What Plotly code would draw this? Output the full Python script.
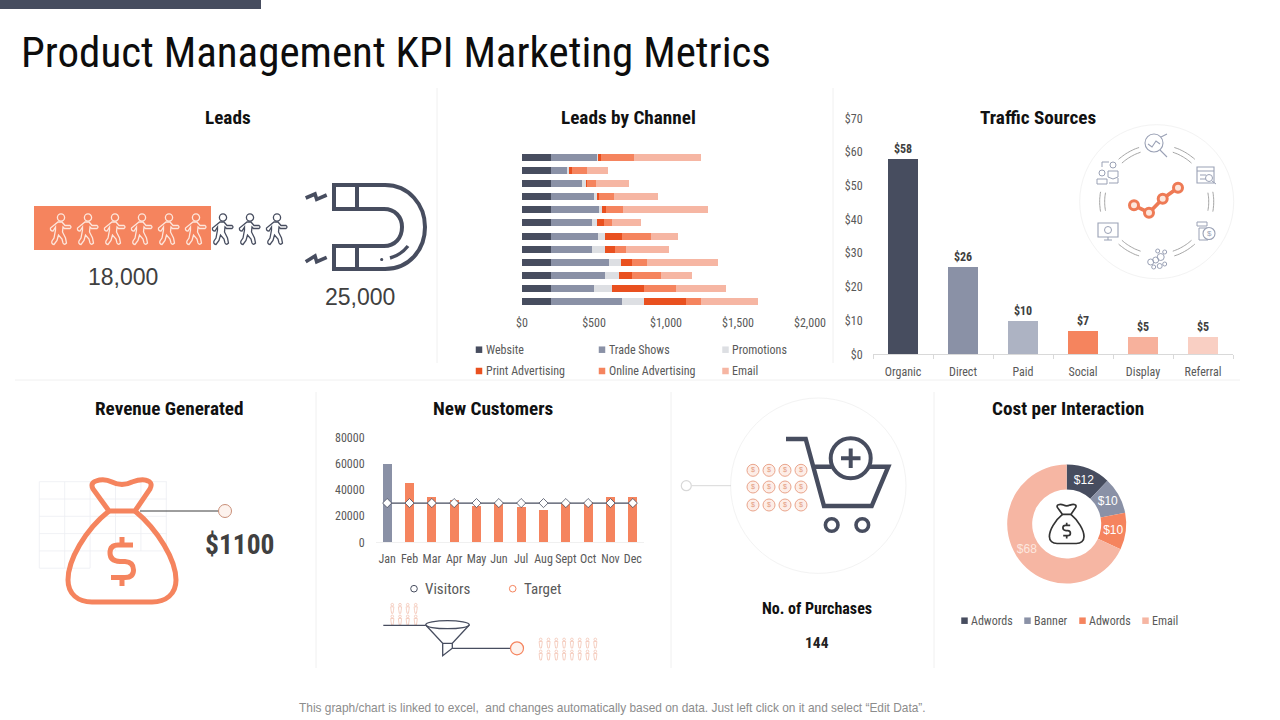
import numpy as np
import plotly.graph_objects as go

W, H = 1280, 720
NARROW = "Roboto Condensed, Roboto"
SANS = "Liberation Sans"

DARK = "#474d5f"
SLATE = "#8a91a6"
PALE = "#adb3c3"
ORANGE = "#f5845e"
SALMON = "#f7b19c"
BLUSH = "#f9cfc3"
RED = "#e9501f"
MIST = "#dddfe3"
EMAIL = "#f6b6a3"
GREY_TEXT = "#595959"
RULE = "#f0f0f0"

# Leads by Channel, one value per row, top row first
row_ids = list(range(1, 13))
website = [200, 200, 200, 200, 200, 200, 200, 200, 200, 200, 200, 200]
trade_shows = [322, 111, 218, 298, 333, 285, 326, 285, 403, 375, 298, 493]
promotions = [5, 14, 30, 28, 21, 35, 49, 90, 83, 97, 125, 153]
print_adv = [21, 21, 5, 12, 28, 49, 118, 69, 76, 90, 222, 292]
online_adv = [229, 104, 60, 100, 118, 56, 201, 81, 104, 201, 227, 104]
email = [465, 150, 229, 305, 590, 201, 188, 294, 493, 215, 343, 396]
channel_ticks = [0, 500, 1000, 1500, 2000]
channel_tick_text = ["$0", "$500", "$1,000", "$1,500", "$2,000"]

# Traffic Sources
traffic_labels = ["Organic", "Direct", "Paid", "Social", "Display", "Referral"]
traffic_values = [58, 26, 10, 7, 5, 5]
traffic_ticks = [0, 10, 20, 30, 40, 50, 60, 70]
traffic_tick_text = ["$0", "$10", "$20", "$30", "$40", "$50", "$60", "$70"]

# New Customers
months = ["Jan", "Feb", "Mar", "Apr", "May", "Jun", "Jul", "Aug", "Sept", "Oct", "Nov", "Dec"]
visitors = [60000, 45000, 35000, 32000, 28000, 30000, 27000, 25000, 30000, 31000, 35000, 35000]
target = [30000, 30000, 30000, 30000, 30000, 30000, 30000, 30000, 30000, 30000, 30000, 30000]
customer_ticks = [0, 20000, 40000, 60000, 80000]

# Cost per Interaction
cost_labels = ["Adwords", "Banner", "Adwords ", "Email"]
cost_values = [12, 10, 10, 68]

shapes = []
notes = []


def dom_x(a, b):
    return [a / W, b / W]


def dom_y(top, bottom):
    return [1 - bottom / H, 1 - top / H]


def path(d, color=DARK, width=1.5, fill=None):
    shapes.append(dict(type="path", path=d, xref="x4", yref="y4",
                       line=dict(color=color, width=width),
                       fillcolor=fill if fill else "rgba(0,0,0,0)"))


def line(x0, y0, x1, y1, color=RULE, width=1):
    shapes.append(dict(type="line", x0=x0, y0=y0, x1=x1, y1=y1, xref="x4", yref="y4",
                       line=dict(color=color, width=width)))


def rect(x0, y0, x1, y1, fill=None, color=None, width=1):
    shapes.append(dict(type="rect", x0=x0, y0=y0, x1=x1, y1=y1, xref="x4", yref="y4",
                       line=dict(color=color or "rgba(0,0,0,0)", width=width),
                       fillcolor=fill or "rgba(0,0,0,0)"))


def circle(cx, cy, r, color=DARK, width=1.5, fill=None):
    shapes.append(dict(type="circle", x0=cx - r, y0=cy - r, x1=cx + r, y1=cy + r,
                       xref="x4", yref="y4", line=dict(color=color, width=width),
                       fillcolor=fill or "rgba(0,0,0,0)"))


def text(x, y, s, size=12, color=GREY_TEXT, family=NARROW, anchor="center"):
    notes.append(dict(x=x, y=y, xref="x4", yref="y4", text=s, showarrow=False,
                      xanchor=anchor, yanchor="middle", borderpad=0,
                      font=dict(size=size, color=color, family=family)))


def walker(cx, cy, color):
    def p(x, y):
        return f"{cx + x:.1f},{cy + y:.1f}"
    d = ("M" + p(-2, -7) + " L" + p(2, -7) + " L" + p(5, -3.5) + " L" + p(10, -3.5)
         + " Q" + p(12, -2) + " " + p(10, -0.5) + " L" + p(4.5, -0.5) + " L" + p(3, -2)
         + " L" + p(2.5, 3) + " L" + p(5.5, 9) + " L" + p(6.5, 14) + " Q" + p(4.5, 16.5) + " " + p(3, 14)
         + " L" + p(2, 10) + " L" + p(-1.5, 6) + " L" + p(-3, 11.5) + " L" + p(-6, 15.5)
         + " Q" + p(-9, 15) + " " + p(-8, 12) + " L" + p(-6, 9) + " L" + p(-4.5, 1)
         + " L" + p(-4.5, -2) + " L" + p(-7, 2) + " Q" + p(-10, 2) + " " + p(-9.5, -1) + " Z")
    path(d, color, 1.3)
    circle(cx + 1, cy - 11.5, 3.6, color, 1.3)


def bag(cx, cy, s, color, width):
    # drawn around the orange bag on the revenue panel, then scaled
    def p(x, y):
        return f"{cx + (x - 122) * s:.1f},{cy + (y - 541) * s:.1f}"
    path("M" + p(109, 511) + " L" + p(93, 489) + " Q" + p(90, 483) + " " + p(96, 481)
         + " Q" + p(104, 478) + " " + p(112, 482) + " Q" + p(122, 487) + " " + p(132, 482)
         + " Q" + p(143, 478) + " " + p(148, 481) + " Q" + p(153, 483) + " " + p(150, 489)
         + " L" + p(135, 511) + " Z", color, width)
    path("M" + p(109, 511) + " C" + p(85, 530) + " " + p(68, 560) + " " + p(68, 580)
         + " C" + p(68, 594) + " " + p(78, 602) + " " + p(92, 602) + " L" + p(152, 602)
         + " C" + p(166, 602) + " " + p(176, 594) + " " + p(176, 580)
         + " C" + p(176, 560) + " " + p(158, 530) + " " + p(135, 511), color, width)
    path("M" + p(133, 545) + " L" + p(118, 545) + " Q" + p(110, 545) + " " + p(110, 553)
         + " Q" + p(110, 561) + " " + p(120, 561.5) + " L" + p(125, 561.5)
         + " Q" + p(133.5, 562) + " " + p(133.5, 570) + " Q" + p(133.5, 577.5) + " " + p(125, 577.5)
         + " L" + p(111, 577.5), color, width)
    path("M" + p(122, 537) + " L" + p(122, 545) + " M" + p(122, 577.5) + " L" + p(122, 586), color, width)


def person(cx, cy, color):
    circle(cx, cy - 3.6, 1.3, color, 0.8)
    path(f"M{cx - 1.6},{cy - 1.5} L{cx + 1.6},{cy - 1.5} L{cx + 1.2},{cy + 2} L{cx + 0.7},{cy + 5}"
         f" L{cx - 0.7},{cy + 5} L{cx - 1.2},{cy + 2} Z", color, 0.8)


def arc(cx, cy, r, a0, a1, color="#9b9b9b", width=0.9):
    ang = np.radians(np.linspace(a0, a1, 14))
    pts = [f"{cx + r * np.cos(a):.1f},{cy - r * np.sin(a):.1f}" for a in ang]
    path("M" + " L".join(pts), color, width)


fig = go.Figure()

# Leads by Channel
stack = [("Website", website, DARK), ("Trade Shows", trade_shows, SLATE),
         ("Promotions", promotions, MIST), ("Print Advertising", print_adv, RED),
         ("Online Advertising", online_adv, ORANGE), ("Email", email, EMAIL)]
for name, vals, col in stack:
    fig.add_trace(go.Bar(y=row_ids, x=vals, name=name, orientation="h", marker=dict(color=col, line_width=0),
                         xaxis="x", yaxis="y", showlegend=False))

# Traffic Sources
fig.add_trace(go.Bar(x=traffic_labels, y=traffic_values, xaxis="x2", yaxis="y2", showlegend=False, width=0.5,
                     marker=dict(color=[DARK, SLATE, PALE, ORANGE, SALMON, BLUSH], line_width=0),
                     text=[f"<b>${v}</b>" for v in traffic_values], textposition="outside", cliponaxis=False,
                     textfont=dict(size=12, color="#404040", family=NARROW)))

# New Customers
fig.add_trace(go.Bar(x=months, y=visitors, name="Visitors", xaxis="x3", yaxis="y3", showlegend=False, width=0.4,
                     marker=dict(color=[SLATE] + [ORANGE] * 11, line_width=0)))
fig.add_trace(go.Scatter(x=months, y=target, name="Target", xaxis="x3", yaxis="y3", showlegend=False,
                         mode="lines+markers", line=dict(color=DARK, width=1.2),
                         marker=dict(symbol="diamond", size=7, color="white", line=dict(color=DARK, width=0.8))))

# Cost per Interaction
fig.add_trace(go.Pie(labels=cost_labels, values=cost_values, hole=0.58, sort=False, direction="clockwise",
                     rotation=0, showlegend=False,
                     domain=dict(x=dom_x(1007, 1126.4), y=dom_y(464.5, 583.5)),
                     marker=dict(colors=[DARK, SLATE, ORANGE, EMAIL], line=dict(color="white", width=0)),
                     texttemplate="$%{value}", textposition="inside", insidetextorientation="horizontal",
                     textfont=dict(size=12, color=["white", "white", "white", "#fde7df"], family=SANS)))

# flat legends and the little dollar coins share the full page axes
legend_groups = [
    ([479, 602, 725.5], [349.7], ["Website", "Trade Shows", "Promotions"], [DARK, SLATE, MIST], 12),
    ([479, 602, 725.5], [371], ["Print Advertising", "Online Advertising", "Email"], [RED, ORANGE, EMAIL], 12),
    ([964.5, 1027.5, 1082.5, 1145.5], [620.7], ["Adwords", "Banner", "Adwords", "Email"],
     [DARK, SLATE, ORANGE, EMAIL], 12),
]
for xs, ys, labels, cols, size in legend_groups:
    fig.add_trace(go.Scatter(x=xs, y=ys * len(xs), mode="markers", xaxis="x4", yaxis="y4", showlegend=False,
                             marker=dict(symbol="square", size=6.5, color=cols, line_width=0)))
    for x, label in zip(xs, labels):
        text(x + 5.5, ys[0], label, size, anchor="left")

for x in [753, 769, 785, 801]:
    for y in [470.3, 487, 505]:
        fig.add_trace(go.Scatter(x=[x], y=[y], mode="markers+text", text=["$"], textposition="middle center",
                                 textfont=dict(size=7, color="#e39a80", family=SANS), xaxis="x4", yaxis="y4",
                                 showlegend=False,
                                 marker=dict(size=12, color="#fdeee8", line=dict(color="#eaa58c", width=1))))

# the orange trend inside the traffic ring
fig.add_trace(go.Scatter(x=[1134, 1149, 1162.7, 1178], y=[205.3, 212.7, 198.7, 187.7], mode="lines+markers",
                         xaxis="x4", yaxis="y4", showlegend=False, line=dict(color="#ee7a55", width=3.6),
                         marker=dict(size=9, color="#fde6dc", line=dict(color="#ee7a55", width=3))))

# chrome
rect(0, 0, 261, 9, fill=DARK)
text(20, 52, "Product Management KPI Marketing Metrics", 43, "#0d0d0d", anchor="left")
for x, y0, y1 in [(437, 88, 363), (833, 88, 363), (316, 392, 668), (671, 392, 668), (934, 392, 668)]:
    line(x, y0, x, y1)
line(15, 380, 1240, 380)
for x, y, s in [(228, 117, "Leads"), (628, 117, "Leads by Channel"), (1038, 117, "Traffic Sources"),
                (169, 408, "Revenue Generated"), (493, 408, "New Customers"), (1068, 408, "Cost per Interaction")]:
    text(x, y, f"<b>{s}</b>", 19.2, "#111111")
text(612, 708, "This graph/chart is linked to excel,  and changes automatically based on data. Just left click on it and select “Edit Data”.",
     11.9, "#8c8c8c", SANS)

# Leads panel
rect(34, 206, 211, 250, fill=ORANGE)
for x in [60, 87, 114, 141, 168, 195]:
    walker(x, 229, "#fde6dc")
for x in [222, 249, 276]:
    walker(x, 229, DARK)
text(123, 277, "18,000", 23, "#404040", SANS)
text(360, 297, "25,000", 23, "#404040", SANS)
path("M334,185 L385,185 C409,185 425,205 425,227 C425,250 409,269 385,269 L334,269 L334,246 L384,246"
     " C395,246 402,238 402,227 C402,217 395,209 384,209 L334,209 Z", DARK, 4)
path("M357,185 L357,209 M357,246 L357,269", DARK, 4)
path("M390,258 Q401,255 408,246", DARK, 3.4)
circle(381.7, 259.5, 1, DARK, 1.2, DARK)
path("M305.7,198 L315,194 L316.7,199.3 L326.7,195", DARK, 3.6)
path("M305.7,261.7 L315,256 L316.7,261.7 L326.7,257.3", DARK, 3.6)

# Traffic ring and its small icons
ICON = "#9aa1b5"
circle(1156.7, 201.7, 77, "#f3f3f3", 1)
for a0, a1 in [(48, 72), (108, 132), (-10, 10), (170, 190), (-72, -48), (-132, -108)]:
    arc(1156.7, 201.7, 52, a0, a1)
    arc(1156.7, 201.7, 57, a0, a1)
circle(1154, 143, 9, ICON, 1.1)
path("M1160,150 L1167,157 M1148,144 L1152,147 L1156,141 L1160,144 M1161,137 L1167,134", ICON, 1.1)
rect(1197, 167, 1214, 183, color=ICON, width=1.1)
path("M1197,171 L1214,171 M1200,175 L1206,175 M1200,179 L1206,179", ICON, 1)
circle(1209, 178, 3.5, ICON, 1)
path("M1212,181 L1216,184", ICON, 1)
rect(1197, 222, 1207, 226, color=ICON, width=1)
rect(1199, 228, 1208, 240, color=ICON, width=1)
circle(1209, 233.5, 6, ICON, 1.1, "white")
text(1209, 233.5, "$", 8, ICON, SANS)
for dx, dy, r in [(-6, 2, 3), (-1, 0, 3), (4, -3, 3.5), (8, -8, 2), (1, -9, 2), (-3, 7, 2), (3, 6, 2.5), (8, 4, 2)]:
    circle(1156.7 + dx, 260 + dy, r, ICON, 1)
rect(1098, 223, 1118, 237, color=ICON, width=1.1)
path("M1104,240 L1112,240 M1108,237 L1108,240", ICON, 1.1)
circle(1108, 230, 3.5, ICON, 1)
circle(1113, 165, 3, ICON, 1)
path("M1108,177 L1108,171 L1118,171 L1118,177 L1113,179 Z", ICON, 1)
circle(1102, 173, 3, ICON, 1)
path("M1097,184 L1097,179 L1107,179 L1107,184 Z M1102,167 L1102,162 L1109,162 M1118,178 L1118,183 L1109,183", ICON, 1)

# Revenue panel
GRID = "#eceef3"
for x in np.arange(39.3, 170, 25.4):
    line(x, 481.7, x, 568 if x < 95 else 551, GRID, 0.8)
for y in np.arange(481.7, 570, 17.3):
    line(39.3, y, 90.2 if y > 560 else 166.7, y, GRID, 0.8)
bag(122, 541, 1.0, ORANGE, 5)
line(140, 511, 219, 511, "#3d3d3d", 1)
circle(225, 511, 6.5, "#c98f78", 1, "#fdf3ee")
text(239.5, 544, "<b>$1100</b>", 27.5, "#404040", NARROW)

# Funnel under New Customers
text(448, 588.7, "Visitors", 15, GREY_TEXT)
text(542, 588.7, "Target", 15, GREY_TEXT)
circle(414, 588.7, 3.3, DARK, 1)
circle(512.7, 588.7, 3.3, ORANGE, 1)
for x in [392.3, 400, 407.7, 415.7]:
    for y in [608.3, 620]:
        person(x, y, "#f3c4b4")
for i in range(8):
    for y in [643, 655]:
        person(540.7 + i * 7.8, y, "#f3c4b4")
line(383.3, 625.3, 425.7, 625.3, DARK, 1.3)
shapes.append(dict(type="circle", x0=425.7, y0=620.7, x1=469.3, y1=628.7, xref="x4", yref="y4",
                   line=dict(color=DARK, width=1.3), fillcolor="rgba(0,0,0,0)"))
path("M425.7,625 L442.7,643.3 L442.7,655.7 L452.3,648.3 L452.3,643.3 L469.3,625 M442.7,643.3 L452.3,643.3", DARK, 1.3)
line(452.3, 648.3, 510.7, 648.3, DARK, 1.3)
circle(517, 648.3, 6.5, ORANGE, 1.2, "#fdf3ee")

# Purchases panel
circle(818.3, 485.7, 87.7, "#f3f3f3", 1)
circle(686.3, 485.7, 5, "#d8d8d8", 1.2)
line(692, 485.7, 731, 485.7, "#d8d8d8", 1)
path("M786,439 L805.7,439 L824,506 L871.7,506 L888.3,466.7 L870,466.7 M815,466.7 L831.7,466.7", DARK, 4.4)
circle(850.7, 458.3, 20, DARK, 4)
path("M850.7,448.5 L850.7,468 M841,458.3 L860.5,458.3", DARK, 4)
circle(831.7, 525, 6.3, DARK, 3.6)
circle(862.3, 525, 6.3, DARK, 3.6)
text(817, 608, "<b>No. of Purchases</b>", 16, "#111111")
text(817, 643, "<b>144</b>", 15.5, "#222222")

# money bag in the donut hole
bag(1066.7, 524, 0.32, "#333333", 1.7)

fig.update_layout(
    width=W, height=H, margin=dict(l=0, r=0, t=0, b=0, autoexpand=False), autosize=False,
    paper_bgcolor="white", plot_bgcolor="rgba(0,0,0,0)", showlegend=False,
    barmode="stack", bargap=0.47,
    shapes=shapes, annotations=notes,
    font=dict(family=NARROW, color=GREY_TEXT, size=12),
    xaxis=dict(domain=dom_x(522, 810), range=[0, 2000], anchor="y", tickvals=channel_ticks, ticktext=channel_tick_text,
               showgrid=False, zeroline=False, showline=False, ticks="outside", ticklen=4,
               tickcolor="rgba(0,0,0,0)", tickfont=dict(size=12, color=GREY_TEXT)),
    yaxis=dict(domain=dom_y(151, 308), range=[12.5, 0.5], anchor="x", visible=False),
    xaxis2=dict(domain=dom_x(873, 1233), anchor="y2", showgrid=False, zeroline=False, showline=True,
                linecolor="#d9d9d9", ticks="outside", tickson="boundaries", ticklen=4, tickcolor="#d9d9d9",
                ticklabelstandoff=6, tickangle=0, tickfont=dict(size=12, color=GREY_TEXT)),
    yaxis2=dict(domain=dom_y(118.3, 354.3), range=[0, 70], anchor="x2", tickvals=traffic_ticks,
                ticktext=traffic_tick_text, showgrid=False, zeroline=False, showline=False, ticks="outside",
                ticklen=7, tickcolor="rgba(0,0,0,0)", tickfont=dict(size=12, color=GREY_TEXT)),
    xaxis3=dict(domain=dom_x(376, 644), range=[-0.5, 11.5], anchor="y3", dtick=1, showgrid=False, zeroline=False,
                showline=True, linecolor="#f0f0f0", ticks="", ticklabelstandoff=5, tickangle=0,
                tickfont=dict(size=12, color=GREY_TEXT)),
    yaxis3=dict(domain=dom_y(437.7, 542.3), range=[0, 80000], anchor="x3", tickvals=customer_ticks,
                ticktext=[str(t) for t in customer_ticks], showgrid=False, zeroline=False, showline=False,
                ticks="outside", ticklen=8, tickcolor="rgba(0,0,0,0)", tickfont=dict(size=12, color=GREY_TEXT)),
    xaxis4=dict(domain=[0, 1], range=[0, W], anchor="y4", visible=False),
    yaxis4=dict(domain=[0, 1], range=[H, 0], anchor="x4", visible=False),
)

fig.write_html("out.html", config={"displayModeBar": False},
               post_script="document.body.style.margin='0';document.body.style.overflow='hidden';")
